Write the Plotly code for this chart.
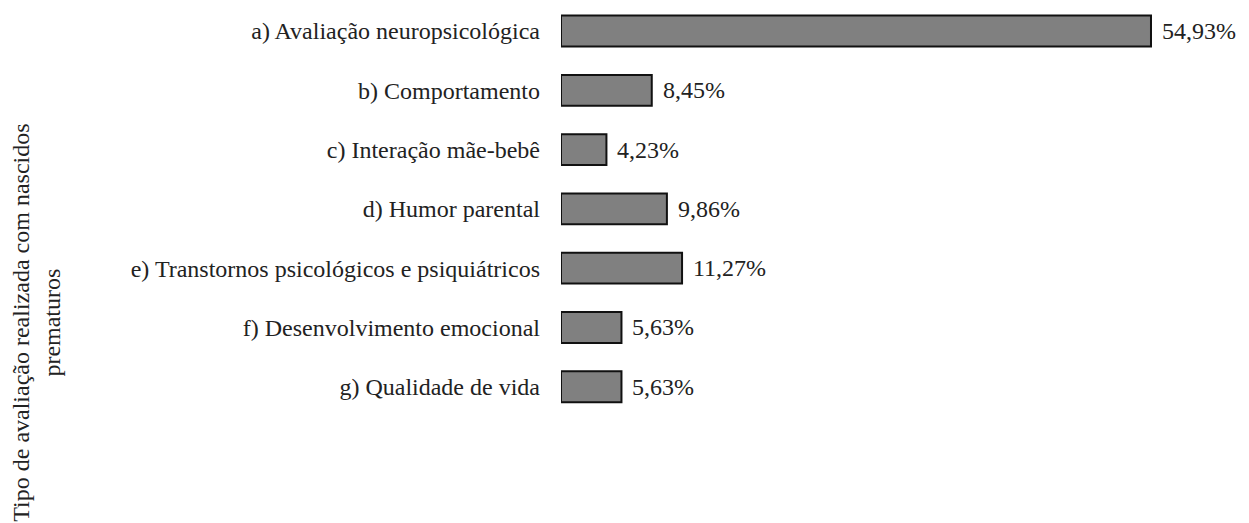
import plotly.graph_objects as go

categories = [
    "a) Avaliação neuropsicológica",
    "b) Comportamento",
    "c) Interação mãe-bebê",
    "d) Humor parental",
    "e) Transtornos psicológicos e psiquiátricos",
    "f) Desenvolvimento emocional",
    "g) Qualidade de vida",
]
values = [54.93, 8.45, 4.23, 9.86, 11.27, 5.63, 5.63]
axis_title = "Tipo de avaliação realizada com nascidos<br>prematuros"

FONT = "Liberation Serif, Times New Roman, Times, serif"
FS = 24

labels = [f"{v:.2f}%".replace(".", ",") for v in values]

fig = go.Figure(go.Bar(
    x=values, y=categories, orientation="h",
    marker=dict(color="#808080", line=dict(color="#111111", width=2)),
    width=0.52,
))

for c, v, t in zip(categories, values, labels):
    fig.add_annotation(x=v, y=c, text=t, showarrow=False, xanchor="left",
                       xshift=9, font=dict(family=FONT, size=FS, color="#222222"))

fig.add_annotation(xref="paper", yref="paper", x=-0.753, y=0.398, text=axis_title,
                   textangle=-90, showarrow=False, xanchor="center", yanchor="middle",
                   font=dict(family=FONT, size=FS, color="#222222"))

fig.update_layout(
    width=1249, height=523,
    margin=dict(l=553, r=0, t=0, b=0),
    paper_bgcolor="white", plot_bgcolor="white",
    showlegend=False,
    font=dict(family=FONT),
    xaxis=dict(range=[0, 64.8], visible=False),
    yaxis=dict(type="category", categoryarray=categories, range=[8.432, -0.388],
               showgrid=False, zeroline=False, showline=False, ticks="",
               ticklabelstandoff=20,
               tickfont=dict(family=FONT, size=FS, color="#222222")),
)

fig.write_html("out.html")
